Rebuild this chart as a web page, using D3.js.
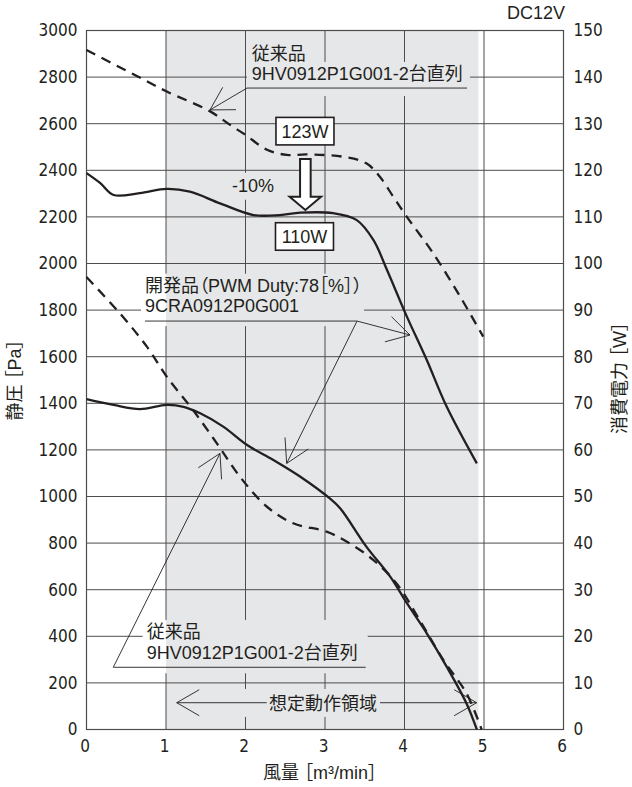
<!DOCTYPE html>
<html>
<head>
<meta charset="utf-8">
<script src="https://cdn.jsdelivr.net/npm/d3@7"></script>
<style>
body { margin: 0; background: #fff; }
svg text { font-family: "Liberation Sans", "Noto Sans CJK JP", sans-serif; fill: #231f20; font-feature-settings: "palt"; }
.tick text { font-family: "Liberation Sans Narrow", "DejaVu Sans Condensed", "Noto Sans CJK JP", sans-serif; font-size: 17px; }
.ann text { font-size: 18px; }
</style>
</head>
<body>
<div id="chart"></div>
<script>
// ticks
const flowTicks = [0, 1, 2, 3, 4, 5, 6]
const pressureTicks = [0, 200, 400, 600, 800, 1000, 1200, 1400, 1600, 1800, 2000, 2200, 2400, 2600, 2800, 3000]
const powerTicks = [0, 10, 20, 30, 40, 50, 60, 70, 80, 90, 100, 110, 120, 130, 140, 150]

// 開発品 9CRA0912P0G001 : static pressure [Pa]
const newPqFlow = [0, 0.34, 0.67, 1.01, 1.22, 1.43, 1.72, 2.02, 2.35, 2.69, 3.06, 3.19, 3.52, 3.82, 4.03, 4.28, 4.53, 4.78, 4.91]
const newPqPa = [1418, 1393, 1375, 1393, 1385, 1357, 1300, 1221, 1157, 1085, 992, 950, 785, 656, 542, 413, 270, 112, 0]
// 従来品 9HV0912P1G001 x2 : static pressure [Pa]
const oldPqFlow = [0, 0.42, 0.76, 1.01, 1.34, 1.64, 1.93, 2.27, 2.6, 3.02, 3.31, 3.61, 3.9, 4.19, 4.49, 4.78, 4.97]
const oldPqPa = [1942, 1786, 1643, 1514, 1371, 1228, 1085, 956, 885, 849, 799, 727, 627, 470, 298, 155, 0]
// 開発品 : power [W]
const newPowerFlow = [0, 0.17, 0.34, 0.67, 1.01, 1.3, 1.68, 2.1, 2.43, 2.69, 3.1, 3.4, 3.61, 3.78, 4.03, 4.28, 4.53, 4.91]
const newPowerW = [119.4, 117.3, 114.7, 115.1, 116.0, 115.4, 112.9, 110.4, 110.4, 110.9, 110.8, 109.3, 105.0, 98.6, 88.6, 79.3, 69.3, 57.1]
// 従来品 : power [W]
const oldPowerFlow = [0, 0.67, 1.01, 1.55, 1.81, 2.0, 2.27, 2.52, 2.77, 3.23, 3.52, 3.69, 3.86, 4.03, 4.36, 4.7, 4.99]
const oldPowerW = [145.8, 139.9, 136.9, 132.7, 129.7, 127.6, 124.4, 123.3, 123.4, 122.9, 121.5, 118.6, 114.3, 110.0, 102.2, 92.9, 84.3]

const W = 632, H = 787
const m = { left: 86.5, right: 563.5, top: 30.5, bottom: 729.5 }
const ink = '#231f20'

const svg = d3.select('#chart').append('svg').attr('width', W).attr('height', H)
const x = d3.scaleLinear().domain([0, 6]).range([m.left, m.right])
const y = d3.scaleLinear().domain([0, 3000]).range([m.bottom, m.top])
const yW = d3.scaleLinear().domain([0, 150]).range([m.bottom, m.top])

// 想定動作領域 shading
svg.append('rect').attr('x', x(1)).attr('y', m.top).attr('width', x(4.93) - x(1)).attr('height', m.bottom - m.top).attr('fill', '#e6e7e8')

// grid lines are cut where labels sit
const mask = svg.append('defs').append('mask').attr('id', 'gridMask')
  .attr('maskUnits', 'userSpaceOnUse').attr('x', 0).attr('y', 0).attr('width', W).attr('height', H)
mask.append('rect').attr('width', W).attr('height', H).attr('fill', '#fff')
const addMask = (x0, y0, x1, y1) => {
  mask.append('rect').attr('x', x0).attr('y', y0).attr('width', x1 - x0).attr('height', y1 - y0).attr('fill', '#000')
}

const grid = svg.append('g').attr('mask', 'url(#gridMask)').attr('stroke', '#4d4d4d').attr('stroke-width', 1)
grid.selectAll('line.h').data(pressureTicks.filter((d) => d > 0 && d < 3000)).join('line').attr('class', 'h')
  .attr('x1', m.left).attr('x2', m.right).attr('y1', (d) => y(d)).attr('y2', (d) => y(d))
grid.selectAll('line.v').data(flowTicks.filter((d) => d > 0 && d < 6)).join('line').attr('class', 'v')
  .attr('x1', (d) => x(d)).attr('x2', (d) => x(d)).attr('y1', m.top).attr('y2', m.bottom)

svg.append('rect').attr('x', m.left).attr('y', m.top).attr('width', m.right - m.left).attr('height', m.bottom - m.top)
  .attr('fill', 'none').attr('stroke', '#4d4d4d').attr('stroke-width', 1.2)

// axes
const fmt = d3.format('d')
const axL = svg.append('g').attr('transform', `translate(${m.left},0)`)
  .call(d3.axisLeft(y).tickValues(pressureTicks).tickFormat(fmt).tickSize(0).tickPadding(9))
const axR = svg.append('g').attr('transform', `translate(${m.right},0)`)
  .call(d3.axisRight(yW).tickValues(powerTicks).tickFormat(fmt).tickSize(0).tickPadding(10))
const axB = svg.append('g').attr('transform', `translate(0,${m.bottom})`)
  .call(d3.axisBottom(x).tickValues(flowTicks).tickFormat(fmt).tickSize(0).tickPadding(10))
;[axL, axR, axB].forEach((a) => a.select('.domain').remove())
axB.selectAll('.tick text').attr('x', -2)

svg.append('text').attr('x', 565).attr('y', 19).attr('text-anchor', 'end').style('font-size', '18px').text('DC12V')
svg.append('text').attr('transform', 'translate(15,380) rotate(-90)').attr('text-anchor', 'middle')
  .attr('dominant-baseline', 'central').style('font-size', '18px').text('静圧 ［Pa］')
svg.append('text').attr('transform', 'translate(620,378) rotate(-90)').attr('text-anchor', 'middle')
  .attr('dominant-baseline', 'central').style('font-size', '18px').text('消費電力 ［W］')
svg.append('text').attr('x', 320).attr('y', 779).attr('text-anchor', 'middle').style('font-size', '18px').text('風量 ［m³/min］')

// curves
const curve = (sy) => d3.line().x((d) => x(d[0])).y((d) => sy(d[1])).curve(d3.curveCatmullRom.alpha(0.5))
const series = [
  { pts: d3.zip(oldPowerFlow, oldPowerW), sy: yW, dash: '10,7' },
  { pts: d3.zip(newPowerFlow, newPowerW), sy: yW, dash: null },
  { pts: d3.zip(oldPqFlow, oldPqPa), sy: y, dash: '10,7' },
  { pts: d3.zip(newPqFlow, newPqPa), sy: y, dash: null }
]
series.forEach((s) => {
  svg.append('path').attr('d', curve(s.sy)(s.pts)).attr('fill', 'none').attr('stroke', ink)
    .attr('stroke-width', 2.3).attr('stroke-dasharray', s.dash)
})

// annotations
const ann = svg.append('g').attr('class', 'ann')
const thin = (x1, y1, x2, y2) => ann.append('line').attr('x1', x1).attr('y1', y1).attr('x2', x2).attr('y2', y2)
  .attr('stroke', ink).attr('stroke-width', 0.9)
const arrow = (x0, y0, x1, y1) => {
  thin(x0, y0, x1, y1)
  const a = Math.atan2(y0 - y1, x0 - x1), L = 26
  ;[-1, 1].forEach((s) => thin(x1, y1, x1 + L * Math.cos(a + s * Math.PI / 6), y1 + L * Math.sin(a + s * Math.PI / 6)))
}
const txt = (tx, ty, t) => ann.append('text').attr('x', tx).attr('y', ty).text(t)
const box = (t) => t.node().getBBox()

// 従来品 (power)
{
  const t1 = txt(x(2.078), y(2873), '従来品')
  const t2 = txt(x(2.078), y(2788), '9HV0912P1G001-2台直列')
  const ux0 = x(2.019), ux1 = x(4.786), uy = y(2753)
  thin(ux0, uy, ux1, uy)
  arrow(ux0, uy, x(1.553), y(2659))
  const b1 = box(t1), b2 = box(t2)
  addMask(b1.x - 4, b1.y - 2, b1.x + b1.width + 4, b1.y + b1.height + 1)
  addMask(ux0, b2.y - 2, ux1 + 3, uy + 8)
}
// 開発品
{
  const t1 = txt(x(0.736), y(1879), '開発品（PWM Duty:78［%］）')
  const t2 = txt(x(0.736), y(1793), '9CRA0912P0G001')
  const ux0 = x(0.736), ux1 = x(3.403), uy = y(1753)
  thin(ux0, uy, ux1, uy)
  arrow(ux1, uy, x(4.069), y(1693))
  arrow(ux1, uy, x(2.518), y(1142))
  const b1 = box(t1), b2 = box(t2)
  addMask(b1.x - 4, b1.y - 2, Math.max(b1.x + b1.width, b2.x + b2.width, ux1) + 2, uy + 5)
}
// 従来品 (static pressure)
{
  const t1 = txt(x(0.757), y(393), '従来品')
  const t2 = txt(x(0.757), y(301), '9HV0912P1G001-2台直列')
  const ux0 = x(0.337), ux1 = x(3.512), uy = y(267)
  thin(ux0, uy, ux1, uy)
  arrow(ux0, uy, x(1.679), y(1185))
  const b1 = box(t1)
  addMask(b1.x - 4, b1.y - 2, ux1 + 2, uy + 6)
}
// 想定動作領域
{
  const ry = y(115)
  arrow(x(2.267), ry, x(1.135), ry)
  arrow(x(3.692), ry, x(4.908), ry)
  ann.append('text').attr('x', x(2.975)).attr('y', y(84)).attr('text-anchor', 'middle').text('想定動作領域')
  addMask(x(1.93), y(174), x(3.76), y(54))
}
// -10%
{
  const t = ann.append('text').attr('x', x(2.094)).attr('y', y(2308)).attr('text-anchor', 'middle').text('-10%')
  const b = box(t)
  addMask(b.x - 4, b.y - 3, b.x + b.width + 4, b.y + b.height + 4)
}
// 123W -> 110W
const labelBox = (cx, w, t) => {
  const bx = x(cx), by = yW(w)
  ann.append('rect').attr('x', bx - 29).attr('y', by - 13.75).attr('width', 58).attr('height', 27.5)
    .attr('fill', '#fff').attr('stroke', ink).attr('stroke-width', 1.6)
  ann.append('text').attr('x', bx).attr('y', by).attr('dy', '0.36em').attr('text-anchor', 'middle').text(t)
}
labelBox(2.748, 128.4, '123W')
labelBox(2.742, 105.8, '110W')
{
  const cx = x(2.753), top = yW(122.4), neck = yW(114.3), tip = yW(111.5)
  const pts = [[cx - 5.3, top], [cx + 5.3, top], [cx + 5.3, neck], [cx + 15.7, neck], [cx, tip], [cx - 15.7, neck], [cx - 5.3, neck]]
  ann.append('path').attr('d', d3.line()(pts) + 'Z').attr('fill', '#fff').attr('stroke', ink).attr('stroke-width', 2)
}
</script>
</body>
</html>
